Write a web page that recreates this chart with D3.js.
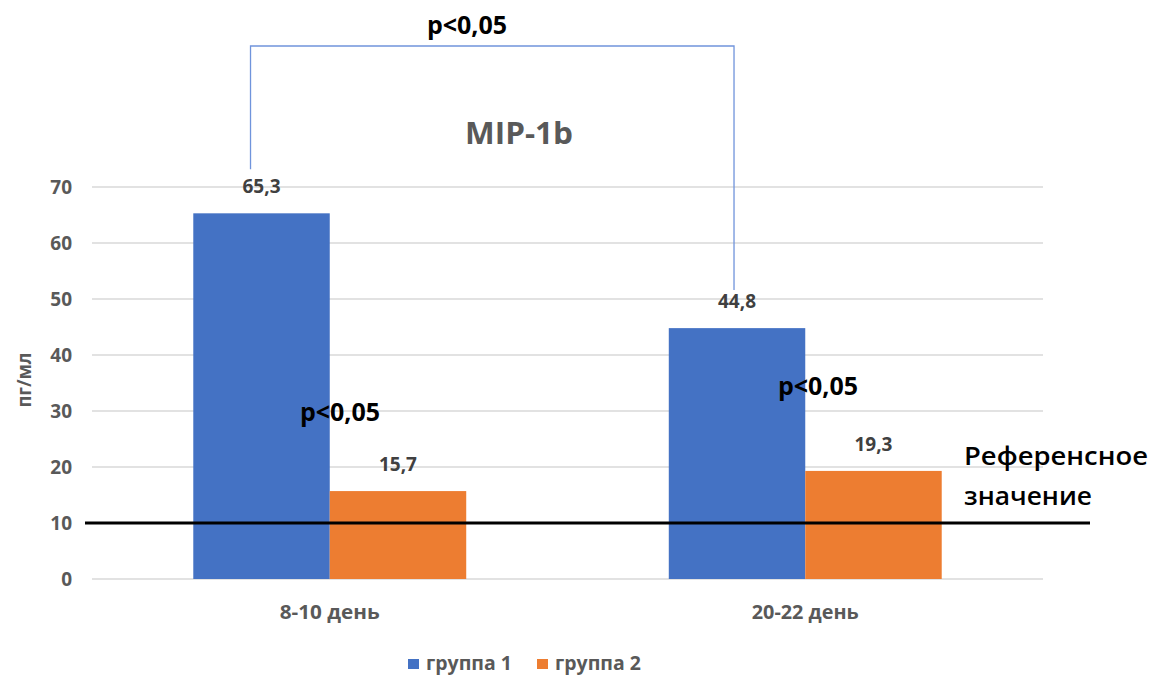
<!DOCTYPE html>
<html>
<head>
<meta charset="utf-8">
<script src="https://cdn.jsdelivr.net/npm/d3@7"></script>
<style>
  body { margin: 0; background: #fff; }
  svg { display: block; }
  text { font-family: "Open Sans", "Noto Sans", sans-serif; }
</style>
</head>
<body>
<svg id="chart" width="1153" height="675"></svg>
<script>
// MIP-1b concentration by period and group
const categories = ["8-10 день", "20-22 день"];
const seriesNames = ["группа 1", "группа 2"];
const group1 = [65.3, 44.8];
const group2 = [15.7, 19.3];
const yTicks = [0, 10, 20, 30, 40, 50, 60, 70];
const referenceValue = 10;
const colors = ["#4472C4", "#ED7D31"];

const svg = d3.select("#chart");
const plot = { left: 92, right: 1043, top: 187, bottom: 579 };

const y = d3.scaleLinear().domain([0, 70]).range([plot.bottom, plot.top]);
const x0 = d3.scaleBand().domain(categories).range([plot.left, plot.right]).padding(0);
const gapFrac = 0.213;
const x1 = d3.scaleBand().domain(seriesNames)
  .range([x0.bandwidth() * gapFrac, x0.bandwidth() * (1 - gapFrac)]).padding(0);

const fmt = v => d3.format(".1f")(v).replace(".", ",");
const grey = "#595959";

// Title
svg.append("text").attr("x", 519).attr("y", 144)
  .attr("text-anchor", "middle").attr("fill", grey)
  .attr("font-size", 30).attr("font-weight", 700)
  .attr("textLength", 108).attr("lengthAdjust", "spacingAndGlyphs").text("MIP-1b");

// Gridlines
svg.append("g").selectAll("line").data(yTicks).join("line")
  .attr("x1", plot.left).attr("x2", plot.right)
  .attr("y1", d => y(d)).attr("y2", d => y(d))
  .attr("stroke", "#d9d9d9").attr("stroke-width", 1.3);

// Y axis labels
const yAxis = d3.axisLeft(y).tickValues(yTicks).tickSize(0).tickPadding(20);
const gy = svg.append("g").attr("transform", `translate(${plot.left},0)`).call(yAxis);
gy.select(".domain").remove();
gy.selectAll("text").attr("fill", grey).attr("font-size", 19).attr("font-weight", 700)
  .attr("font-family", "'Open Sans', sans-serif");

// Y axis title
svg.append("text").attr("transform", `translate(31,380) rotate(-90)`)
  .attr("text-anchor", "middle").attr("fill", grey)
  .attr("font-size", 20).attr("font-weight", 700)
  .attr("textLength", 55).attr("lengthAdjust", "spacingAndGlyphs").text("пг/мл");

// Bars
const rows = categories.map((c, i) => ({ cat: c, vals: [group1[i], group2[i]] }));
const groups = svg.append("g").selectAll("g").data(rows).join("g")
  .attr("transform", d => `translate(${x0(d.cat)},0)`);
groups.selectAll("rect").data(d => d.vals.map((v, j) => ({ s: seriesNames[j], v, j })))
  .join("rect")
  .attr("x", d => x1(d.s)).attr("width", x1.bandwidth())
  .attr("y", d => y(d.v)).attr("height", d => y(0) - y(d.v))
  .attr("fill", d => colors[d.j]);

// Value labels
groups.selectAll("text.val").data(d => d.vals.map((v, j) => ({ s: seriesNames[j], v, j })))
  .join("text").attr("class", "val")
  .attr("x", d => x1(d.s) + x1.bandwidth() / 2)
  .attr("y", d => y(d.v) - 20)
  .attr("text-anchor", "middle").attr("fill", "#404040")
  .attr("font-size", 19).attr("font-weight", 700)
  .text(d => fmt(d.v));

// X axis labels
svg.append("g").selectAll("text").data(categories).join("text")
  .attr("x", d => x0(d) + x0.bandwidth() / 2).attr("y", 619)
  .attr("text-anchor", "middle").attr("fill", grey)
  .attr("font-size", 19).attr("font-weight", 700)
  .attr("textLength", (d, i) => i === 0 ? 100 : 107).attr("lengthAdjust", "spacingAndGlyphs")
  .text(d => d);

// Reference line
svg.append("line").attr("x1", 85).attr("x2", 1090)
  .attr("y1", y(referenceValue)).attr("y2", y(referenceValue))
  .attr("stroke", "#000").attr("stroke-width", 3);
svg.append("text").attr("x", 964).attr("y", 465).attr("fill", "#000")
  .attr("font-size", 25).attr("font-weight", 600)
  .attr("textLength", 184).attr("lengthAdjust", "spacingAndGlyphs").text("Референсное");
svg.append("text").attr("x", 964).attr("y", 505).attr("fill", "#000")
  .attr("font-size", 25).attr("font-weight", 600)
  .attr("textLength", 128).attr("lengthAdjust", "spacingAndGlyphs").text("значение");

// Significance bracket between group 1 bars
const bx1 = x0(categories[0]) + x1(seriesNames[0]) + x1.bandwidth() / 2 - 11;
const bx2 = x0(categories[1]) + x1(seriesNames[0]) + x1.bandwidth() / 2 - 3;
const bTop = 46;
svg.append("path")
  .attr("d", `M${bx1},${y(group1[0]) - 44} V${bTop} H${bx2} V${y(group1[1]) - 38}`)
  .attr("fill", "none").attr("stroke", "#7094dc").attr("stroke-width", 1.3);
svg.append("text").attr("x", 467).attr("y", 34).attr("text-anchor", "middle")
  .attr("fill", "#000").attr("font-size", 25).attr("font-weight", 700).text("p<0,05");

// Significance labels between groups within each period
svg.append("text").attr("x", 340).attr("y", 421).attr("text-anchor", "middle")
  .attr("fill", "#000").attr("font-size", 25).attr("font-weight", 700).text("p<0,05");
svg.append("text").attr("x", 818).attr("y", 395).attr("text-anchor", "middle")
  .attr("fill", "#000").attr("font-size", 25).attr("font-weight", 700).text("p<0,05");

// Legend
const legend = svg.append("g").attr("transform", "translate(408,664)");
const items = legend.selectAll("g").data(seriesNames).join("g")
  .attr("transform", (d, i) => `translate(${i * 129},0)`);
items.append("rect").attr("x", 0).attr("y", -5).attr("width", 11).attr("height", 10)
  .attr("fill", (d, i) => colors[i]);
items.append("text").attr("x", 18).attr("y", 6).attr("fill", grey)
  .attr("font-size", 19).attr("font-weight", 700)
  .attr("textLength", 86).attr("lengthAdjust", "spacingAndGlyphs").text(d => d);
</script>
</body>
</html>
